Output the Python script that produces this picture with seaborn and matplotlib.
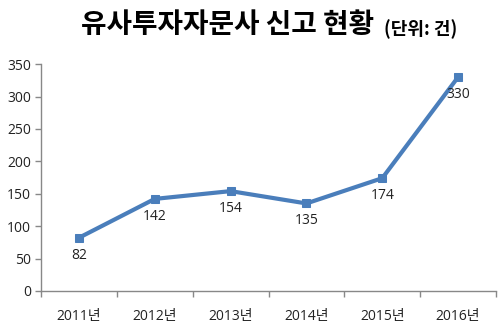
import matplotlib
matplotlib.use("Agg")
import matplotlib.pyplot as plt
import seaborn as sns
import pandas as pd
from matplotlib.ticker import FixedLocator

years = ["2011년", "2012년", "2013년", "2014년", "2015년", "2016년"]
counts = [82, 142, 154, 135, 174, 330]
yticks = [0, 50, 100, 150, 200, 250, 300, 350]

sns.set_theme(style="white")
plt.rcParams['font.family'] = ['Open Sans', 'Noto Sans CJK KR', 'DejaVu Sans']

df = pd.DataFrame({"year": years, "count": counts})

fig = plt.figure(figsize=(5, 3.34), dpi=100)
ax = fig.add_axes([0.082, 0.129, 0.91, 0.679])
color = "#4A7EBB"
sns.lineplot(data=df, x="year", y="count", ax=ax, color=color, linewidth=3,
             marker="s", markersize=5.5, markeredgecolor=color, markerfacecolor=color)

for i, v in enumerate(counts):
    ax.annotate(str(v), (i, v), xytext=(0, -7), textcoords="offset points",
                ha="center", va="top", fontsize=10, color="#222222")

ax.set_xlim(-0.5, len(years) - 0.5)
ax.set_ylim(0, 350)
ax.set_yticks(yticks)
ax.set_xticks(range(len(years)))
ax.set_xticklabels(years)
ax.xaxis.set_minor_locator(FixedLocator([i - 0.5 for i in range(len(years) + 1)]))
ax.tick_params(axis="x", which="major", length=0, pad=13, labelsize=10, colors="#222222")
ax.tick_params(axis="x", which="minor", length=4, width=1, color="#888888", bottom=True)
ax.tick_params(axis="y", length=4, width=1, color="#888888", left=True, labelsize=10,
               labelcolor="#222222", pad=3)
ax.set_xlabel("")
ax.set_ylabel("")
for s in ["top", "right"]:
    ax.spines[s].set_visible(False)
for s in ["left", "bottom"]:
    ax.spines[s].set_color("#888888")
    ax.spines[s].set_linewidth(1)

fig.text(0.162, 0.925, "유사투자자문사 신고 현황", fontsize=20, fontweight="bold",
         ha="left", va="center", color="black",
         family=['Noto Sans CJK KR', 'DejaVu Sans'])
fig.text(0.768, 0.913, "(단위: 건)", fontsize=13, fontweight="bold",
         ha="left", va="center", color="black",
         family=['Noto Sans CJK KR', 'DejaVu Sans'])

fig.savefig("out.png", dpi=100)
